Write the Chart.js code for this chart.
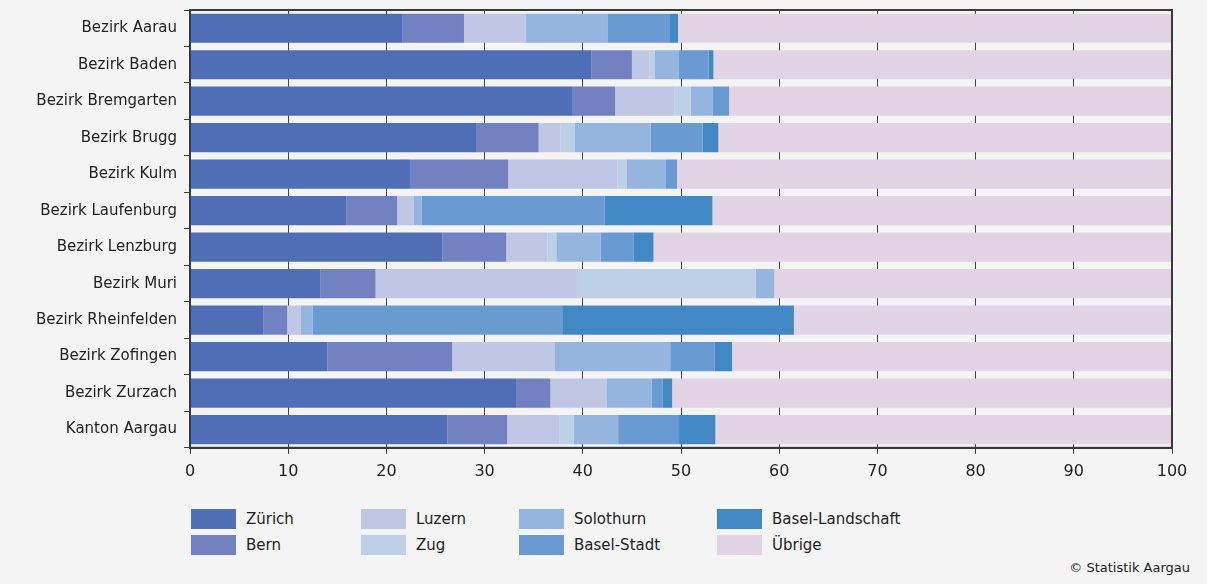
<!DOCTYPE html>
<html>
<head>
<meta charset="utf-8">
<script src="https://cdn.jsdelivr.net/npm/chart.js@4"></script>
<style>
  html, body { margin: 0; padding: 0; background: #f4f4f4; }
  body { width: 1207px; height: 584px; position: relative; overflow: hidden; font-family: "DejaVu Sans", sans-serif; color: #222; }
  #chartWrap { position: absolute; left: 0; top: -6px; width: 1207px; height: 495px; }
  .legend-item { position: absolute; height: 20px; font-size: 15px; line-height: 20px; }
  .legend-item span.box { position: absolute; left: 0; top: 0; width: 45px; height: 20px; }
  .legend-item span.label { position: absolute; left: 55px; top: 0; white-space: nowrap; }
  #copyright { position: absolute; right: 17px; top: 560px; font-size: 13px; }
</style>
</head>
<body>
<div id="chartWrap"><canvas id="chart"></canvas></div>
<div id="legend"></div>
<div id="copyright">© Statistik Aargau</div>
<script>
const regions = [
  "Bezirk Aarau", "Bezirk Baden", "Bezirk Bremgarten", "Bezirk Brugg",
  "Bezirk Kulm", "Bezirk Laufenburg", "Bezirk Lenzburg", "Bezirk Muri",
  "Bezirk Rheinfelden", "Bezirk Zofingen", "Bezirk Zurzach", "Kanton Aargau"
];

const seriesNames = ["Zürich", "Bern", "Luzern", "Zug", "Solothurn", "Basel-Stadt", "Basel-Landschaft", "Übrige"];
const seriesColors = ["#4f6eb5", "#7281c1", "#c0c7e4", "#bed0e8", "#96b5de", "#6a9ad2", "#4188c4", "#e0d4e5"];

const zuerich = [21.6, 40.9, 38.9, 29.2, 22.4, 15.9, 25.7, 13.3, 7.5, 14.0, 33.2, 26.2];
const bern = [6.3, 4.1, 4.4, 6.3, 10.0, 5.2, 6.5, 5.6, 2.4, 12.7, 3.5, 6.1];
const luzern = [6.3, 1.8, 6.0, 2.2, 11.1, 1.7, 4.2, 20.5, 1.4, 10.4, 5.7, 5.3];
const zug = [0, 0.5, 1.7, 1.5, 1.0, 0, 0.9, 18.2, 0, 0, 0, 1.5];
const solothurn = [8.3, 2.5, 2.2, 7.7, 3.9, 0.8, 4.5, 1.9, 1.2, 11.8, 4.6, 4.5];
const baselStadt = [6.3, 3.0, 1.7, 5.3, 1.2, 18.6, 3.4, 0, 25.4, 4.5, 1.1, 6.2];
const baselLand = [0.9, 0.5, 0, 1.6, 0, 11.0, 2.0, 0, 23.6, 1.8, 1.0, 3.7];
const uebrige = [50.3, 46.7, 45.1, 46.2, 50.4, 46.8, 52.8, 40.5, 38.5, 44.8, 50.9, 46.5];

const xTicks = [0, 10, 20, 30, 40, 50, 60, 70, 80, 90, 100];

const seriesData = [zuerich, bern, luzern, zug, solothurn, baselStadt, baselLand, uebrige];

const frameColor = "#3a3a3a";

const framePlugin = {
  id: "frame",
  afterDraw(chart) {
    const { ctx, chartArea } = chart;
    ctx.save();
    ctx.strokeStyle = frameColor;
    ctx.lineWidth = 2;
    ctx.strokeRect(chartArea.left, chartArea.top, chartArea.right - chartArea.left, chartArea.bottom - chartArea.top);
    ctx.restore();
  },
};

const datasets = seriesNames.map((name, i) => ({
  label: name,
  data: seriesData[i],
  backgroundColor: seriesColors[i],
  borderWidth: 0,
  barPercentage: 0.8,
  categoryPercentage: 1.0,
}));

new Chart(document.getElementById("chart"), {
  type: "bar",
  data: { labels: regions, datasets: datasets },
  options: {
    indexAxis: "y",
    responsive: true,
    maintainAspectRatio: false,
    animation: false,
    layout: { padding: { top: 4, right: 35, left: 0, bottom: 0 } },
    plugins: {
      legend: { display: false },
      tooltip: { enabled: false },
    },
    scales: {
      x: {
        stacked: true,
        min: 0,
        max: 100,
        afterBuildTicks: (scale) => {
          scale.ticks = xTicks.map((v) => ({ value: v }));
        },
        grid: {
          color: "#444",
          lineWidth: 1,
          drawTicks: true,
          tickLength: 6,
          tickColor: frameColor,
        },
        border: { display: true, color: frameColor, width: 2 },
        ticks: {
          color: "#222",
          padding: 8,
          font: { family: "DejaVu Sans", size: 16 },
          maxRotation: 0,
        },
      },
      y: {
        stacked: true,
        afterFit: (scale) => {
          scale.width = 190;
        },
        grid: {
          offset: true,
          drawOnChartArea: false,
          drawTicks: true,
          tickLength: 6,
          tickColor: frameColor,
        },
        border: { display: true, color: frameColor, width: 2 },
        ticks: {
          color: "#222",
          padding: 7,
          font: { family: "DejaVu Sans", size: 15 },
        },
      },
    },
  },
  plugins: [framePlugin],
});

// legend: 4 columns, 2 rows, filled column by column
const legendCols = [191, 361, 519, 717];
const legendRows = [509, 535];
const legendEl = document.getElementById("legend");

seriesNames.forEach((name, i) => {
  const item = document.createElement("div");
  item.className = "legend-item";
  item.style.left = legendCols[Math.floor(i / 2)] + "px";
  item.style.top = legendRows[i % 2] + "px";
  item.innerHTML = `<span class="box" style="background:${seriesColors[i]}"></span><span class="label">${name}</span>`;
  legendEl.appendChild(item);
});
</script>
</body>
</html>
